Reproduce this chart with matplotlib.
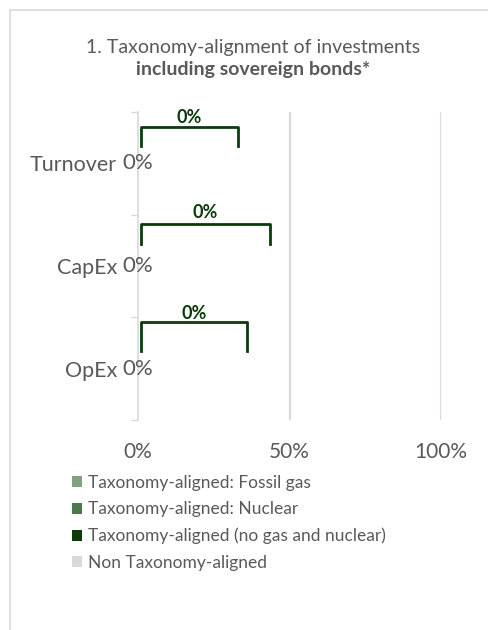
import numpy as np
import matplotlib
matplotlib.use('Agg')
import matplotlib.pyplot as plt
from matplotlib.patches import Rectangle

plt.rcParams['font.family'] = ['Lato', 'DejaVu Sans']

# data
categories = ['Turnover', 'CapEx', 'OpEx']
series_names = ['Taxonomy-aligned: Fossil gas',
                'Taxonomy-aligned: Nuclear',
                'Taxonomy-aligned (no gas and nuclear)',
                'Non Taxonomy-aligned']
fossil_gas = [0, 0, 0]
nuclear = [0, 0, 0]
aligned = [0, 0, 0]
non_aligned = [0, 0, 0]
aligned_total = [0, 0, 0]   # value shown in the bracket callout
xticks = [0, 50, 100]
xtick_labels = ['0%', '50%', '100%']

# style
colors = ['#82a082', '#4d7a4d', '#0b3a0b', '#d9d9d9']
grey = '#595959'
light = '#d9d9d9'
dark = '#0b3a0b'
callout_width = [32, 42.5, 35]

fig = plt.figure(figsize=(4.88, 6.3), dpi=100)
ax = fig.add_axes([138/488, 1 - 420/630, 303/488, 308/630])

y = np.arange(len(categories))
left = np.zeros(len(categories))
for vals, c, name in zip([fossil_gas, nuclear, aligned, non_aligned], colors, series_names):
    ax.barh(y, vals, left=left, height=0.6, color=c, label=name)
    left = left + np.array(vals)

ax.set_xlim(0, 100)
ax.set_ylim(len(categories) - 0.5, -0.5)

ax.set_xticks(xticks)
ax.set_xticklabels(xtick_labels)
ax.tick_params(axis='x', length=0, pad=16, labelsize=15, labelcolor=grey)
ax.set_yticks(y)
ax.set_yticklabels(categories)
ax.tick_params(axis='y', length=0, pad=15, labelsize=15.5, labelcolor=grey)
ax.set_yticks(np.arange(-0.5, len(categories)), minor=True)
ax.tick_params(axis='y', which='minor', length=5, color=light, width=1)

for s in ['top', 'right', 'bottom']:
    ax.spines[s].set_visible(False)
ax.spines['left'].set_color(light)
ax.spines['left'].set_linewidth(1.2)
for xv in xticks[1:]:
    ax.axvline(xv, color=light, lw=1.5, zorder=0)

# in-bar labels
for yi, v in zip(y, left):
    ax.text(v, yi, '%d%%' % v, ha='center', va='center', fontsize=16, color=grey)

# bracket callouts
lab_off = [-0.45, -0.52, -0.54]
top_off = [-0.35, -0.41, -0.45]
bot_off = [-0.17, -0.21, -0.17]
for yi, v, w, lo, to, bo in zip(y, aligned_total, callout_width, lab_off, top_off, bot_off):
    x0, x1 = 1, w + 1
    ax.plot([x0, x0, x1, x1], [yi + bo, yi + to, yi + to, yi + bo],
            color=dark, lw=2, solid_joinstyle='round', clip_on=False)
    ax.text((x0 + x1) / 2, yi + lo, '%d%%' % v, ha='center', va='center',
            fontsize=13, fontweight='bold', color=dark)

# title
fig.text(253/488, 1 - 47/630, '1. Taxonomy-alignment of investments',
         ha='center', va='center', fontsize=14, color=grey)
fig.text(253/488, 1 - 70/630, 'including sovereign bonds*',
         ha='center', va='center', fontsize=14, color=grey, fontweight='bold')

# legend
leg = fig.legend(loc='upper left', bbox_to_anchor=(72/488, 1 - 475/630),
                 frameon=False, fontsize=12.5, handlelength=0.6, handleheight=0.6,
                 handletextpad=0.3, labelspacing=0.6, borderpad=0, borderaxespad=0)
for t in leg.get_texts():
    t.set_color(grey)

# outer chart border (cropped)
fig.patches.append(Rectangle((10/488, -0.1), 1.2, 1.1 - 10/630, transform=fig.transFigure,
                             fill=False, edgecolor=light, lw=1.2))

fig.savefig('out.png', dpi=100)
